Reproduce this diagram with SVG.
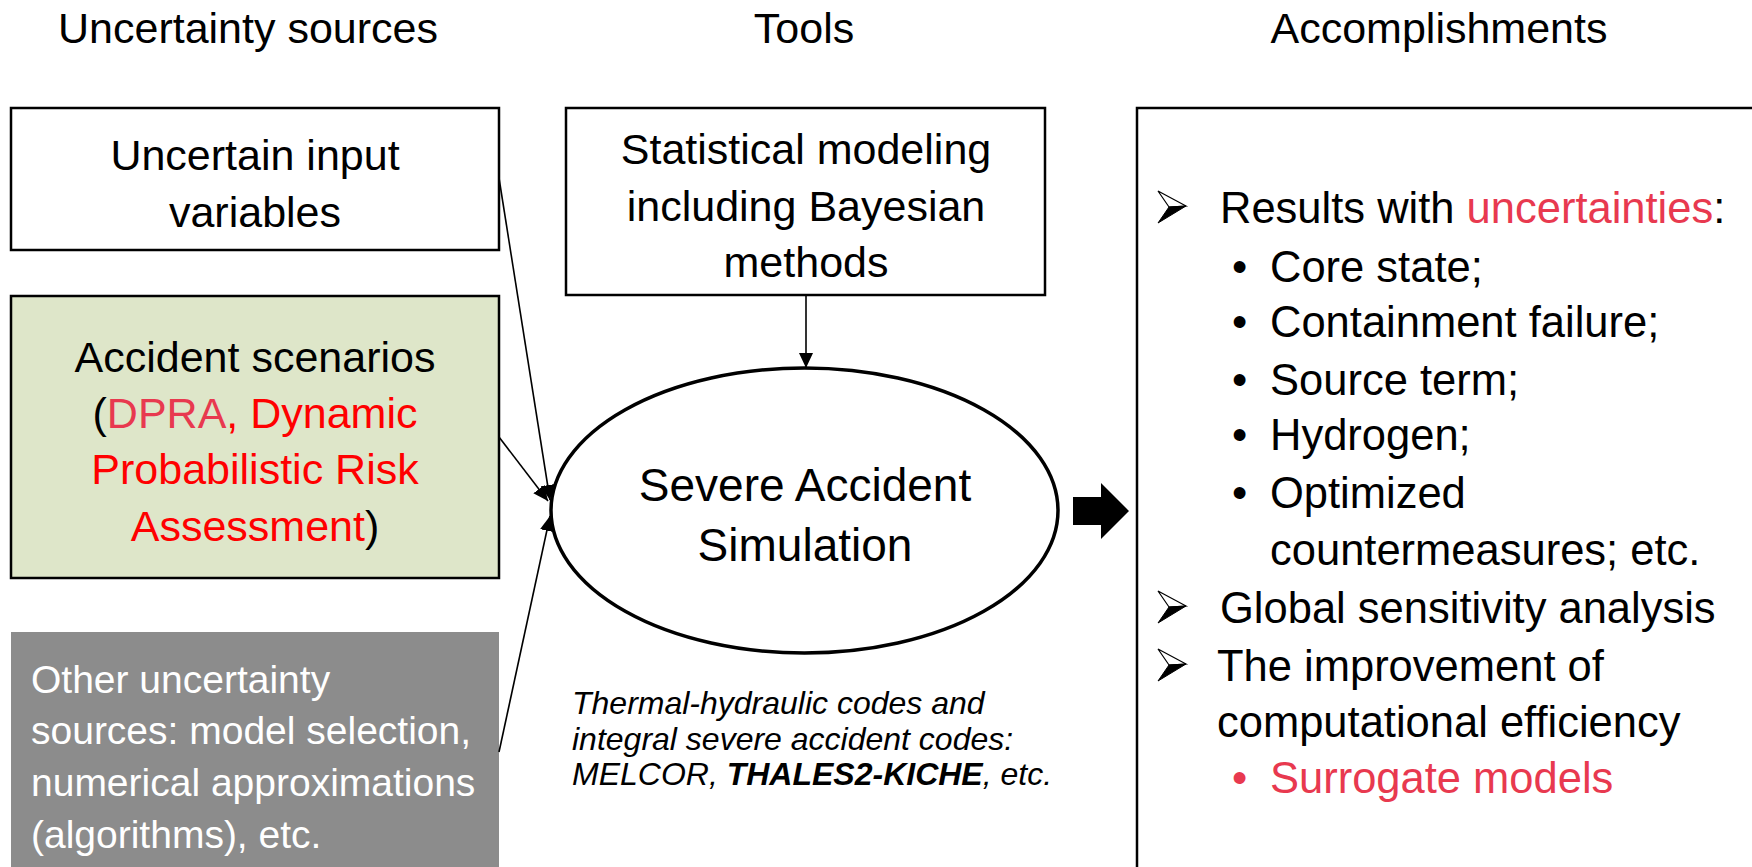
<svg xmlns="http://www.w3.org/2000/svg" xmlns:xlink="http://www.w3.org/1999/xlink" width="1752" height="867" viewBox="0 0 1752 867">
<style>
text{font-family:"Liberation Sans",Arial,sans-serif;fill:#000}
.h{font-size:43px;text-anchor:middle}
.b{font-size:43px;text-anchor:middle}
.r{font-size:43.5px}
.g{font-size:39px;fill:#fff}
.it{font-size:32px;font-style:italic}
.red{fill:#ff0000}
.pink{fill:#e8394f}
.box{fill:#fff;stroke:#000;stroke-width:2.5}
.con{stroke:#000;stroke-width:1.6;fill:none;marker-end:url(#ah)}
</style>
<defs>
<marker id="ah" markerUnits="userSpaceOnUse" markerWidth="16" markerHeight="14" refX="15" refY="7" orient="auto">
<path d="M0,0 L15,7 L0,14 z" fill="#000"/>
</marker>
<g id="arr">
<polygon points="0,-32 28,-17 11,-16" fill="#fff" stroke="#000" stroke-width="1.2" stroke-linejoin="miter"/>
<polygon points="11,-16 28,-17 0,0" fill="#000" stroke="#000" stroke-width="1"/>
</g>
</defs>
<rect width="1752" height="867" fill="#fff"/>

<g id="headers">
<text class="h" x="248" y="43">Uncertainty sources</text>
<text class="h" x="804" y="43">Tools</text>
<text class="h" x="1439" y="43">Accomplishments</text>
</g>

<g id="n-uncertain-input">
<rect class="box" x="11" y="108" width="488" height="142"/>
<text class="b" x="255" y="170">Uncertain input</text>
<text class="b" x="255" y="227">variables</text>
</g>

<g id="n-accident-scenarios">
<rect x="11" y="296" width="488" height="282" fill="#dee6c9" stroke="#000" stroke-width="2.5"/>
<text class="b" x="255" y="372">Accident scenarios</text>
<text class="b" x="255" y="428">(<tspan class="pink">DPRA</tspan><tspan class="red">, Dynamic</tspan></text>
<text class="b red" x="255" y="484">Probabilistic Risk</text>
<text class="b" x="255" y="541"><tspan class="red">Assessment</tspan>)</text>
</g>

<g id="n-other-sources">
<rect x="11" y="632" width="488" height="240" fill="#8c8c8c"/>
<text class="g" x="31" y="693">Other uncertainty</text>
<text class="g" x="31" y="744">sources: model selection,</text>
<text class="g" x="31" y="796">numerical approximations</text>
<text class="g" x="31" y="848">(algorithms), etc.</text>
</g>

<g id="n-statistical">
<rect class="box" x="566" y="108" width="479" height="187"/>
<text class="b" x="806" y="164">Statistical modeling</text>
<text class="b" x="806" y="221">including Bayesian</text>
<text class="b" x="806" y="277">methods</text>
</g>

<g id="n-simulation">
<ellipse cx="804.5" cy="510.5" rx="253.5" ry="142.5" fill="#fff" stroke="#000" stroke-width="3.5"/>
<text class="b" x="805" y="501" style="font-size:46px">Severe Accident</text>
<text class="b" x="805" y="561" style="font-size:46px">Simulation</text>
</g>

<g id="n-codes">
<text class="it" x="572" y="714">Thermal-hydraulic codes and</text>
<text class="it" x="572" y="750">integral severe accident codes:</text>
<text class="it" x="572" y="785">MELCOR, <tspan font-weight="bold">THALES2-KICHE</tspan>, etc.</text>
</g>

<g id="n-block-arrow">
<polygon points="1073,497 1101,497 1101,483 1129,511 1101,539 1101,525 1073,525" fill="#000"/>
</g>

<g id="n-accomplishments">
<rect class="box" x="1137" y="108" width="700" height="800"/>
<use xlink:href="#arr" href="#arr" x="1158" y="223"/>
<text class="r" x="1220" y="223">Results with <tspan class="pink">uncertainties</tspan>:</text>
<text class="r" x="1232" y="282">•</text><text class="r" x="1270" y="282">Core state;</text>
<text class="r" x="1232" y="337">•</text><text class="r" x="1270" y="337">Containment failure;</text>
<text class="r" x="1232" y="395">•</text><text class="r" x="1270" y="395">Source term;</text>
<text class="r" x="1232" y="450">•</text><text class="r" x="1270" y="450">Hydrogen;</text>
<text class="r" x="1232" y="508">•</text><text class="r" x="1270" y="508">Optimized</text>
<text class="r" x="1270" y="565">countermeasures; etc.</text>
<use xlink:href="#arr" href="#arr" x="1158" y="623"/>
<text class="r" x="1220" y="623">Global sensitivity analysis</text>
<use xlink:href="#arr" href="#arr" x="1158" y="681"/>
<text class="r" x="1217" y="681">The improvement of</text>
<text class="r" x="1217" y="737">computational efficiency</text>
<text class="r pink" x="1232" y="793">•</text><text class="r pink" x="1270" y="793">Surrogate models</text>
</g>

<g id="connectors">
<line class="con" x1="499" y1="178" x2="550" y2="500"/>
<line class="con" x1="499" y1="437" x2="548" y2="501"/>
<line class="con" x1="499" y1="752" x2="550" y2="516"/>
<line class="con" x1="806" y1="295" x2="806" y2="368"/>
</g>
</svg>
